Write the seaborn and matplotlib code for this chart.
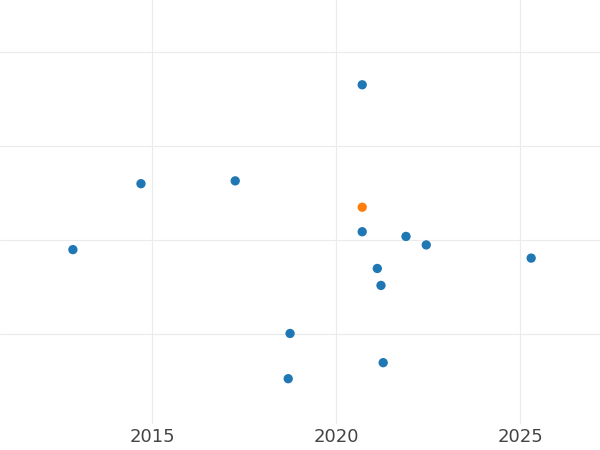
import pandas as pd
import seaborn as sns
import matplotlib.pyplot as plt

# Data (y in arbitrary units)
years = [2020.71, 2014.70, 2017.26, 2020.71, 2020.71, 2021.90, 2022.45,
         2012.85, 2025.30, 2021.12, 2021.22, 2018.75, 2021.28, 2018.70]
values = [2.65, 1.60, 1.63, 1.35, 1.09, 1.04, 0.95,
          0.90, 0.81, 0.70, 0.52, 0.01, -0.30, -0.47]
groups = ['a', 'a', 'a', 'b', 'a', 'a', 'a', 'a', 'a', 'a', 'a', 'a', 'a', 'a']

df = pd.DataFrame({'year': years, 'value': values, 'group': groups})

sns.set_style('whitegrid')
fig = plt.figure(figsize=(6, 4.5), dpi=100)
ax = fig.add_axes([0, 0.058, 1, 0.942])
sns.scatterplot(data=df, x='year', y='value', hue='group',
                palette={'a': '#1f77b4', 'b': '#ff7f0e'},
                s=45, edgecolor='none', legend=False, ax=ax)

ax.set_xlim(2010.87, 2027.17)
ax.set_ylim(-0.95, 3.55)
ax.set_xticks([2015, 2020, 2025])
ax.set_yticks([0, 1, 2, 3])
ax.set_yticklabels([])
ax.tick_params(axis='y', length=0)
ax.tick_params(axis='x', length=0, labelsize=13, colors='#444444', pad=3)
ax.grid(color='#ebebeb', linewidth=0.8)
ax.set_xlabel('')
ax.set_ylabel('')
for s in ax.spines.values():
    s.set_visible(False)

fig.savefig('out.png', dpi=100)
